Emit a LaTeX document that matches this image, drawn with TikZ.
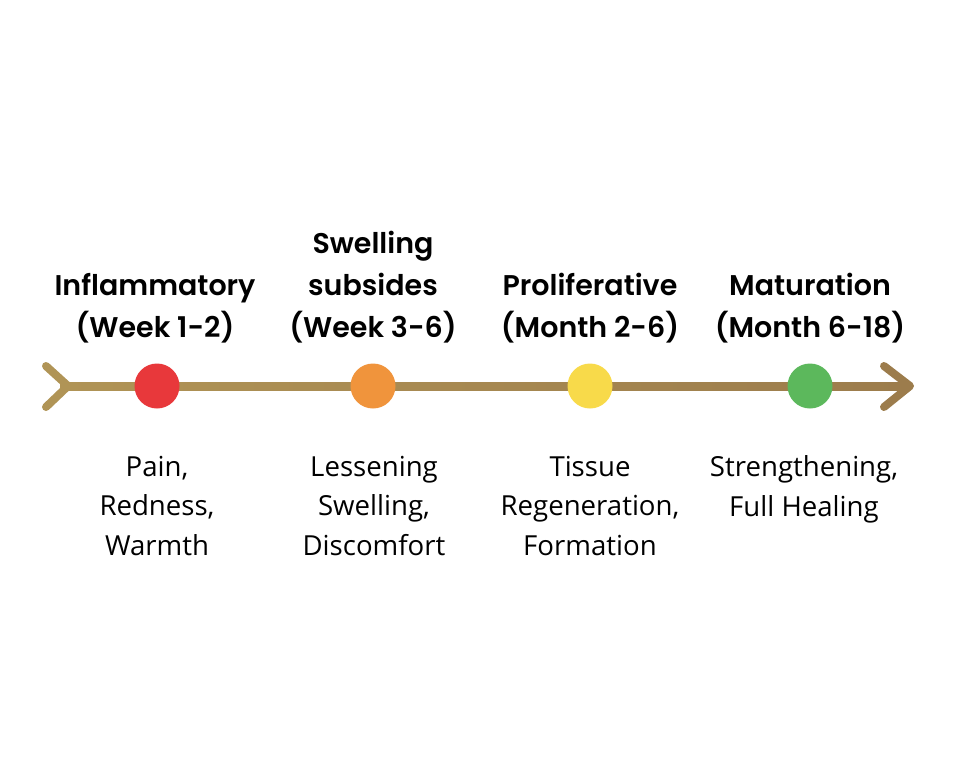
\documentclass[tikz,border=0pt]{standalone}
\usepackage{fontspec}
\setmainfont{Open Sans}
\newfontfamily\headfont{Poppins}[UprightFont=*-SemiBold,BoldFont=*-Bold]
\definecolor{linec}{HTML}{B09456}
\definecolor{linee}{HTML}{9C7C4C}
\definecolor{cred}{HTML}{E8383B}
\definecolor{corange}{HTML}{F0943C}
\definecolor{cyellow}{HTML}{F8DA4A}
\definecolor{cgreen}{HTML}{5CB85C}
\begin{document}
\begin{tikzpicture}[x=1pt,y=-1pt,
  head/.style={font=\headfont\fontsize{28.5}{42}\selectfont,align=center,anchor=base},
  body/.style={font=\fontsize{27.6}{39.5}\selectfont,align=center,anchor=base},
  dot/.style={circle,minimum size=45pt,inner sep=0pt}]
\useasboundingbox (0,0) rectangle (960,773);
\shade[left color=linec,right color=linee] (60,382) rectangle (905,390);
\coordinate (t1) at (46,366); \coordinate (t0) at (68,386); \coordinate (t2) at (46,407);
\coordinate (a1) at (884,366); \coordinate (a0) at (910,386); \coordinate (a2) at (884,407);
\draw[linec,line width=8pt,line cap=round,line join=round] (t1) -- (t0) -- (t2);
\draw[linee,line width=8pt,line cap=round,line join=round] (a1) -- (a0) -- (a2);
\node[dot,fill=cred] (d1) at (157,386) {};
\node[dot,fill=corange] (d2) at (373,386) {};
\node[dot,fill=cyellow] (d3) at (590,386) {};
\node[dot,fill=cgreen] (d4) at (810,386) {};
\node[head] (h1) at (155,337) {Inflammatory\\(Week 1-2)};
\node[head] (h2) at (373,337) {Swelling\\subsides\\(Week 3-6)};
\node[head] (h3) at (590,337) {Proliferative\\(Month 2-6)};
\node[head] (h4) at (810,337) {Maturation\\(Month 6-18)};
\node[body] (b1) at (157,555) {Pain,\\Redness,\\Warmth};
\node[body] (b2) at (374,555) {Lessening\\Swelling,\\Discomfort};
\node[body] (b3) at (590,555) {Tissue\\Regeneration,\\Formation};
\node[body] (b4) at (804,516) {Strengthening,\\Full Healing};
\end{tikzpicture}
\end{document}
